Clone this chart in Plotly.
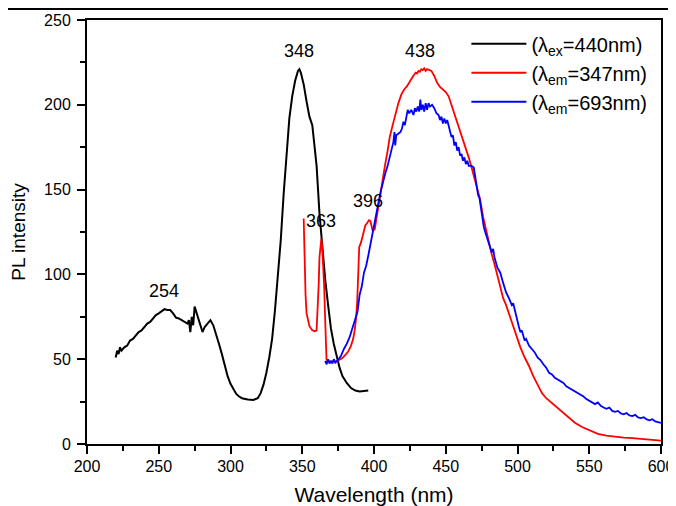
import plotly.graph_objects as go

# ---- data ----
ex_x = [220, 221, 222, 223, 224, 226, 228, 230, 232, 234, 236, 238, 240, 242, 244, 246, 248, 250, 252, 254,
        256, 258, 260, 262, 264, 266, 268, 270, 271, 272, 273, 274, 275, 277, 279, 280.5, 282, 284, 286, 288,
        290, 292, 294, 296, 298, 300, 302, 304, 306, 308, 312, 316, 319, 321, 323, 325, 327, 329, 331, 333,
        335, 337, 339, 341, 343, 345, 347, 348, 349, 351, 353, 355, 357, 358, 360, 362, 364, 366, 368, 370,
        372, 374, 376, 378, 381, 384, 387, 390, 393, 396]
ex_y = [51, 55, 53, 57, 55, 57, 58, 61, 62, 64, 66, 67, 69, 71, 72, 74, 76, 77, 78, 79.5,
        79, 79, 77, 74.5, 74, 73, 72.5, 71, 73, 66, 75, 70, 81, 76, 70, 66, 69, 71, 73, 70,
        65, 59, 53, 46, 40, 35.5, 32, 29.5, 28, 27, 26.3, 26, 27, 30, 35, 42, 51, 62, 79, 98,
        120, 147, 172, 192, 205, 214, 220, 221, 219, 212, 202, 193, 188, 180, 164, 136, 115, 97, 82, 68,
        59, 51, 45, 40, 36, 33, 31.5, 31, 31.3, 31.5]

em1_x = [351, 351.3, 351.7, 352.3, 353, 354, 355, 357, 358.7, 360, 360.8, 361.5, 362, 362.7, 363.3, 364,
         364.7, 365.3, 365.8, 366.3, 366.9, 368, 370, 372, 374, 376, 378, 380, 382, 384, 385.5, 386.6,
         387.5, 388.3, 388.9, 389.3, 389.7, 391, 392.5, 394, 395, 396.5, 397.5, 399, 400.5, 401.5, 403,
         404.5, 406, 407.6, 409.5, 411, 413, 415, 417, 419, 421, 423, 425, 427, 429, 430, 431, 432, 433,
         434, 435, 436, 437, 438, 440, 442, 444, 446, 448, 450, 452, 454, 456, 458, 460, 462, 464, 466,
         468, 470, 472, 474, 476, 478, 480, 482, 484, 486, 488, 490, 492, 494, 496, 498, 500, 502, 505,
         508, 511, 514, 517, 520, 524, 528, 532, 536, 540, 545, 550, 556, 562, 568, 574, 580, 586, 592,
         596, 600]
em1_y = [133, 120, 103, 88, 77, 72, 69.5, 67, 66.5, 67, 80, 95, 110, 118, 121, 115,
         104, 92, 78, 60, 50, 48.7, 48.5, 48.7, 48.7, 49.5, 50.7, 52.5, 54.5, 58, 62, 67.4,
         74, 84, 95, 110, 116, 119, 125, 129, 130, 132, 131.5, 126, 126.5, 132, 139,
         146, 155, 164, 173, 181, 188, 195, 201, 206, 209, 211, 214, 216.5, 219, 218.5, 220, 219.5, 221,
         220.5, 221.5, 220, 221, 220.5, 220, 217, 213, 210.5, 209, 207.5, 205, 200, 194, 189, 184, 179, 175, 169,
         163, 157, 151, 144, 134, 126, 118, 112, 106, 99, 92, 86, 82, 77, 71, 66, 61, 57, 51,
         46, 40, 35, 30, 27, 24, 21, 18, 15, 12.5, 10, 8, 6, 5, 4.3, 3.8, 3.5, 3.2, 2.8,
         2.3, 2]

em2_x = [366, 367, 368, 369, 370, 371, 372, 373, 375, 377, 379, 381, 383, 384.5, 386, 387.5, 388.5, 390,
         391.5, 393, 394.5, 396, 397.5, 399, 400.5, 402, 403.5, 405, 406.5, 408, 409.5, 411, 412.5, 413.5,
         414.3, 414.8, 415.5, 417, 418.5, 419.5, 420.5, 421.5, 422.5, 423.5, 424.5, 426, 427.5, 428.5,
         429.5, 430.5, 431.5, 432.3, 433, 434, 435, 436, 437, 438, 439, 440.5, 442, 443.5, 445, 446, 447,
         448, 449, 450, 451, 452, 453, 454, 455, 456, 457, 458, 459, 460, 461, 462, 463, 464, 465, 466,
         468, 469.5, 470.5, 471.5, 472.5, 473.5, 474.5, 475.5, 476.5, 477.5, 479, 480, 481, 482, 483, 484,
         486, 488, 490, 492, 494, 496, 497, 498, 500, 501, 502, 503, 504, 505, 506, 508, 510, 512, 514,
         516, 518, 520, 522, 524, 526, 528, 530, 532, 534, 536, 538, 540, 542, 544, 546, 548, 550, 552,
         554, 556, 558, 560, 562, 564, 566, 568, 570, 572, 574, 576, 578, 580, 582, 584, 586, 588, 590,
         592, 594, 596, 598, 600]
em2_y = [49, 47, 50, 47.5, 49, 47.5, 50, 48, 49.7, 52, 56, 59, 63, 67, 70, 74, 78, 88,
         93, 101, 105, 111, 118, 125, 130, 138, 144, 150, 156, 160, 164, 169, 174, 178,
         184, 176, 182, 183, 184, 186, 190, 188, 193, 197, 195, 197, 194, 198,
         196, 199, 196, 203, 197, 200, 196, 201, 197, 201, 199, 200, 198, 195, 194, 191, 193,
         189, 192, 189, 191, 188, 184, 181, 182, 176, 178, 173, 175, 170, 171, 167, 169, 165, 167, 164,
         164, 163, 158, 153, 147, 145, 139, 135, 128, 125, 121, 119, 117, 113, 115, 110,
         104, 101, 95, 89.5, 86, 82, 83, 79, 72, 69, 66, 67, 64, 61, 62, 58, 56, 54, 51,
         49.5, 47, 45, 42, 41, 39, 38, 36.5, 36, 34, 33, 32, 31, 29.5, 29, 28, 26.5, 25.5, 24.5,
         23.5, 24.5, 22.5, 21.5, 20.8, 21.5, 19.5, 19, 19.5, 18, 17.5, 18.3, 16.8, 16.5, 17.2, 15.7, 15.3, 15.8, 14.5,
         14, 14.6, 13.3, 12.9, 12.5]

legend_names = ["(λ<sub>ex</sub>=440nm)", "(λ<sub>em</sub>=347nm)", "(λ<sub>em</sub>=693nm)"]
peak_x = [254, 348, 363, 396, 432]
peak_y = [90, 232, 131.5, 143.5, 232]
peak_labels = ["254", "348", "363", "396", "438"]

FONT = "Liberation Sans, Arial, sans-serif"

fig = go.Figure()
fig.add_trace(go.Scatter(x=ex_x, y=ex_y, mode="lines", name=legend_names[0], legendgroup="a",
                         line=dict(color="black", width=2)))
fig.add_trace(go.Scatter(x=em1_x, y=em1_y, mode="lines", name=legend_names[1], legendgroup="b",
                         line=dict(color="#ff0000", width=1.8)))
fig.add_trace(go.Scatter(x=em2_x, y=em2_y, mode="lines", name=legend_names[2], legendgroup="c",
                         line=dict(color="#0000ff", width=1.8)))

for px, py, t in zip(peak_x, peak_y, peak_labels):
    fig.add_annotation(x=px, y=py, text=t, showarrow=False,
                       font=dict(family=FONT, size=18, color="black"))

# thin black rule along the top edge of the image
fig.add_shape(type="line", xref="paper", yref="paper", x0=-0.2, x1=1.2, y0=1.026, y1=1.026,
              line=dict(color="black", width=2))

# page body adds an 8px offset; figure sized so plot lands where the reference has it
fig.update_layout(
    width=668, height=498,
    margin=dict(l=79, r=15, t=12, b=62),
    paper_bgcolor="white", plot_bgcolor="white",
    font=dict(family=FONT, size=16, color="black"),
    showlegend=True,
    legend=dict(x=0.985, xanchor="right", y=0.99, yanchor="top", bgcolor="rgba(0,0,0,0)",
                font=dict(family=FONT, size=20, color="black"), tracegroupgap=0,
                itemwidth=55),
    xaxis=dict(range=[200, 600], tick0=200, dtick=50, ticks="outside", ticklen=8, tickwidth=2,
               tickcolor="black", showline=True, linecolor="black", linewidth=2, mirror=True,
               showgrid=False, zeroline=False, ticklabelstandoff=-1, automargin=False,
               minor=dict(dtick=25, ticks="outside", ticklen=5, tickwidth=2, tickcolor="black"),
               title=dict(text="Wavelength (nm)", font=dict(family=FONT, size=21), standoff=15)),
    yaxis=dict(range=[0, 250], tick0=0, dtick=50, ticks="outside", ticklen=8, tickwidth=2,
               tickcolor="black", showline=True, linecolor="black", linewidth=2, mirror=True,
               showgrid=False, zeroline=False, ticklabelstandoff=3, automargin=False,
               minor=dict(dtick=25, ticks="outside", ticklen=5, tickwidth=2, tickcolor="black"),
               title=dict(text="PL intensity", font=dict(family=FONT, size=19))),
)

fig.write_html("out.html")
